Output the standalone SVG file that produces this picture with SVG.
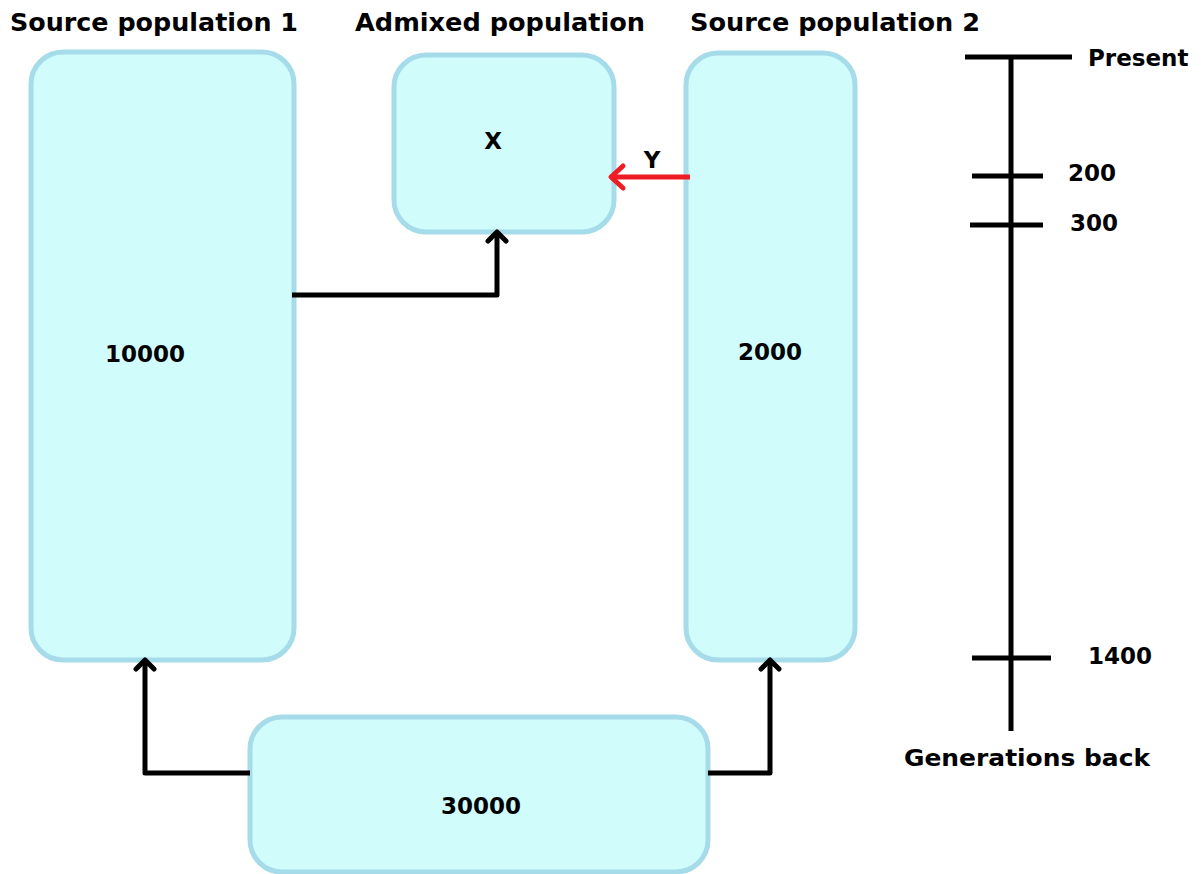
<svg xmlns="http://www.w3.org/2000/svg" width="1204" height="874" viewBox="0 0 1204 874">
<defs>
<style>
.box{fill:#d0fcfc;stroke:#a6dce9;stroke-width:5}
.t{font-family:"DejaVu Sans","Liberation Sans",sans-serif;font-weight:bold;fill:#000}
.h{font-size:24px}
.n{font-size:23px}
.c{fill:none;stroke:#000;stroke-width:5;stroke-linejoin:round}
.r{fill:none;stroke:#ee1c24;stroke-width:5}
.ax{stroke:#000;stroke-width:5}
</style>
<marker id="ah" viewBox="0 0 24 24" refX="14" refY="12" markerWidth="24" markerHeight="24" markerUnits="userSpaceOnUse" orient="auto">
<path d="M5,3 L14,12 L5,21" fill="none" stroke="#000" stroke-width="5" stroke-linecap="round" stroke-linejoin="round"/>
</marker>
<marker id="ahr" viewBox="0 0 30 30" refX="17" refY="15" markerWidth="30" markerHeight="30" markerUnits="userSpaceOnUse" orient="auto">
<path d="M5,4 L17,15 L5,26" fill="none" stroke="#ee1c24" stroke-width="5" stroke-linecap="round" stroke-linejoin="round"/>
</marker>
</defs>
<rect width="1204" height="874" fill="#fff"/>
<g id="source1">
<rect class="box" x="31" y="52" width="263" height="608" rx="32"/>
<text class="t h" x="154" y="31" text-anchor="middle" textLength="288" lengthAdjust="spacingAndGlyphs">Source population 1</text>
<text class="t n" x="145" y="362" text-anchor="middle">10000</text>
</g>
<g id="admixed">
<rect class="box" x="394" y="55" width="220" height="177" rx="32"/>
<text class="t h" x="500" y="31" text-anchor="middle" textLength="290" lengthAdjust="spacingAndGlyphs">Admixed population</text>
<text class="t n" x="493" y="149" text-anchor="middle">X</text>
</g>
<g id="source2">
<rect class="box" x="686" y="53" width="169" height="607" rx="32"/>
<text class="t h" x="835" y="31" text-anchor="middle" textLength="290" lengthAdjust="spacingAndGlyphs">Source population 2</text>
<text class="t n" x="770" y="360" text-anchor="middle">2000</text>
</g>
<g id="ancestral">
<rect class="box" x="250" y="717" width="458" height="155" rx="32"/>
<text class="t n" x="481" y="814" text-anchor="middle">30000</text>
</g>
<g id="connectors">
<path class="c" d="M292,295 H497 V232" marker-end="url(#ah)"/>
<path class="c" d="M250,773 H145 V660" marker-end="url(#ah)"/>
<path class="c" d="M708,773 H770 V660" marker-end="url(#ah)"/>
<path class="r" d="M690,177 H611" marker-end="url(#ahr)"/>
<text class="t n" x="652" y="168" text-anchor="middle">Y</text>
</g>
<g id="timeline">
<line class="ax" x1="1011" y1="57" x2="1011" y2="731"/>
<line class="ax" x1="965" y1="57" x2="1072" y2="57"/>
<line class="ax" x1="972" y1="176" x2="1043" y2="176"/>
<line class="ax" x1="970" y1="225" x2="1043" y2="225"/>
<line class="ax" x1="972" y1="658" x2="1051" y2="658"/>
<text class="t n" x="1088" y="66">Present</text>
<text class="t n" x="1068" y="181">200</text>
<text class="t n" x="1070" y="231">300</text>
<text class="t n" x="1088" y="664">1400</text>
<text class="t n" x="904" y="766" textLength="246" lengthAdjust="spacingAndGlyphs">Generations back</text>
</g>
</svg>
